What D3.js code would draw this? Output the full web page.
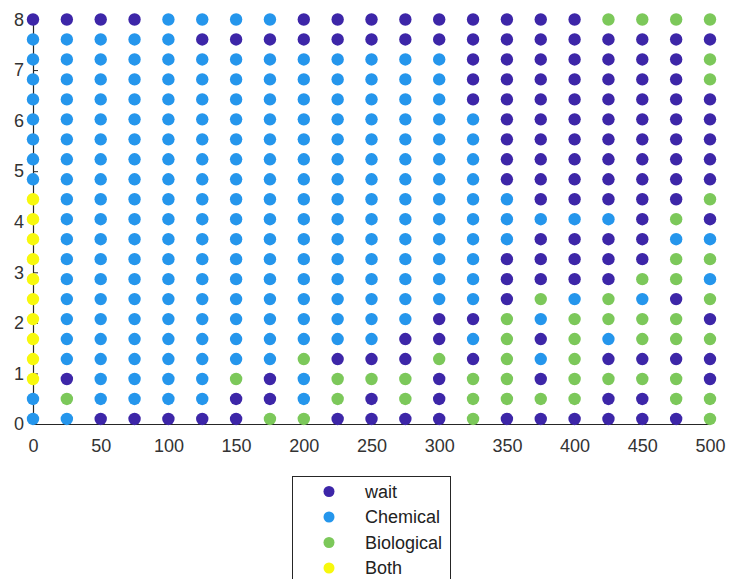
<!DOCTYPE html>
<html>
<head>
<meta charset="utf-8">
<script src="https://cdn.jsdelivr.net/npm/d3@7"></script>
<style>
  html, body { margin: 0; padding: 0; background: #fff; }
  svg { display: block; font-family: "Liberation Sans", Arial, sans-serif; }
</style>
</head>
<body>
<svg id="chart" width="729" height="579"></svg>
<script>
// ---- data ----
const categories = ["wait", "Chemical", "Biological", "Both"];
const categoryCodes = ["W", "C", "G", "Y"];
const categoryColors = ["#3d26a8", "#2596ec", "#7cc85a", "#f7f80d"];
const xValues = [0, 25, 50, 75, 100, 125, 150, 175, 200, 225, 250, 275, 300, 325, 350, 375, 400, 425, 450, 475, 500];
const yValues = [8.0, 7.605, 7.21, 6.815, 6.42, 6.025, 5.63, 5.235, 4.84, 4.445, 4.05, 3.655, 3.26, 2.865, 2.47, 2.075, 1.68, 1.285, 0.89, 0.495, 0.1];
// one string per row (top to bottom), one letter per x value
const gridRows = [
  "WWWWCCCCWWWWWWWWWGGGG",
  "CCCCCWWWWWWWWWWWWWWWW",
  "CCCCCCCCCCCCCWWWWWWWG",
  "CCCCCCCCCCCCCWWWWWWWG",
  "CCCCCCCCCCCCCWWWWWWWW",
  "CCCCCCCCCCCCCCWWWWWWW",
  "CCCCCCCCCCCCCCWWWWWWW",
  "CCCCCCCCCCCCCCWWWWWWW",
  "CCCCCCCCCCCCCCWWWWWWW",
  "YCCCCCCCCCCCCCCWWWWWG",
  "YCCCCCCCCCCCCCCCCCWGW",
  "YCCCCCCCCCCCCCCWWWWCC",
  "YCCCCCCCCCCCCCWWWWWGG",
  "YCCCCCCCCCCCCCWWWWGGC",
  "YCCCCCCCCCCCCCWGCGCWG",
  "YCCCCCCCCCCCWWGCGGGGW",
  "YCCCCCCCCCCWWCGWGCGGG",
  "YCCCCCCCGWWWGWGCGWWWW",
  "YWCCCCGWCGGGWGGWGGGGW",
  "CGCCCCWWCGWGWGGGGWWGG",
  "CCWWWWWGGWWWWGWWWWWWG"
];
const xTicks = [0, 50, 100, 150, 200, 250, 300, 350, 400, 450, 500];
const yTicks = [0, 1, 2, 3, 4, 5, 6, 7, 8];

// ---- drawing ----
const svg = d3.select("#chart");
const axisColor = "#262626";
const x = d3.scaleLinear().domain([0, 500]).range([33, 710]);
const y = d3.scaleLinear().domain([0, 8]).range([424, 19.5]);
const color = d3.scaleOrdinal().domain(categoryCodes).range(categoryColors);

const points = [];
gridRows.forEach((row, i) => {
  row.split("").forEach((code, j) => {
    points.push({ x: xValues[j], y: yValues[i], code });
  });
});

// x axis
const xAxis = d3.axisBottom(x).tickValues(xTicks).tickSizeInner(-5).tickSizeOuter(0).tickPadding(15);
const gx = svg.append("g").attr("transform", `translate(0,${y(0)})`).call(xAxis);
// y axis
const yAxis = d3.axisLeft(y).tickValues(yTicks).tickSizeInner(-5).tickSizeOuter(0).tickPadding(9);
const gy = svg.append("g").attr("transform", `translate(${x(0)},0)`).call(yAxis);

[gx, gy].forEach(g => {
  g.select(".domain").attr("stroke", axisColor).attr("stroke-width", 1.2);
  g.selectAll(".tick line").attr("stroke", axisColor);
  g.selectAll(".tick text")
    .attr("fill", "#333")
    .style("font-size", "18px")
    .style("font-family", "Liberation Sans, Arial, sans-serif");
});

// points
svg.append("g").selectAll("circle")
  .data(points)
  .enter().append("circle")
  .attr("cx", d => x(d.x))
  .attr("cy", d => y(d.y))
  .attr("r", 6.2)
  .attr("fill", d => color(d.code));

// legend
const legend = svg.append("g");
legend.append("rect")
  .attr("x", 292.5).attr("y", 476.5)
  .attr("width", 158).attr("height", 130)
  .attr("fill", "#fff").attr("stroke", axisColor).attr("stroke-width", 1);
const items = legend.selectAll("g.item")
  .data(categories)
  .enter().append("g")
  .attr("transform", (d, i) => `translate(0,${491.5 + i * 25.5})`);
items.append("circle")
  .attr("cx", 329).attr("cy", 0).attr("r", 5.5)
  .attr("fill", (d, i) => categoryColors[i]);
items.append("text")
  .attr("x", 365).attr("y", 0).attr("dy", "0.35em")
  .attr("fill", "#222")
  .style("font-size", "18px")
  .text(d => d);
</script>
</body>
</html>
